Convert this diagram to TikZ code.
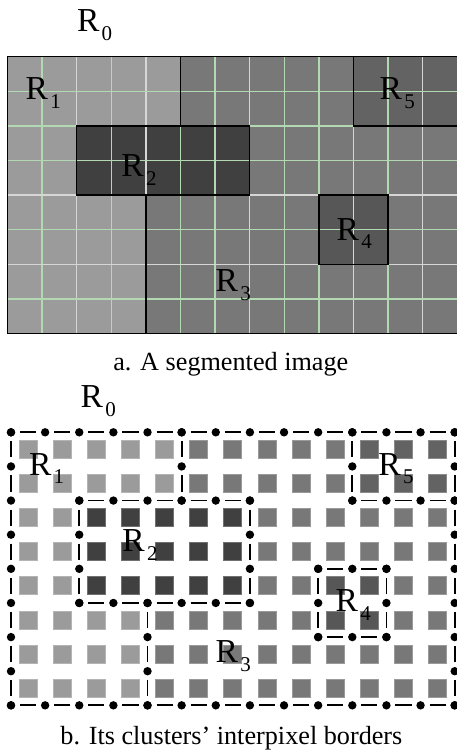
\documentclass[tikz,border=0pt]{standalone}
\usepackage{fontspec}
\setmainfont{Liberation Serif}
\definecolor{cA}{HTML}{9B9B9B}
\definecolor{cB}{HTML}{404040}
\definecolor{cC}{HTML}{787878}
\definecolor{cD}{HTML}{575757}
\definecolor{cE}{HTML}{636363}
\definecolor{gG}{HTML}{B2D9B2}
\definecolor{gW}{HTML}{D6D6D6}
\newcommand\rlab[1]{{\fontsize{33.5}{33.5}\selectfont R}\kern2.3pt\raisebox{-8.5pt}{\fontsize{21}{21}\selectfont #1}}
\newcommand\sqblock[5]{\foreach \c in {#1,...,#2}{\foreach \r in {#3,...,#4}{\path[fill=#5, draw=#5!75!white, line width=0.8pt] (\c+0.5,\r+0.5) ++(-9pt,-9pt) rectangle ++(18pt,18pt);}}}
\newcommand\hrun[3]{%
  \pgfmathtruncatemacro\hlast{#3-1}%
  \foreach \i in {#2,...,\hlast}{\draw[dashe] (\i,#1) -- (\i+1,#1);}%
  \foreach \i in {#2,...,#3}{\fill (\i,#1) circle[radius=4.2pt];}}
\newcommand\vrun[3]{%
  \pgfmathtruncatemacro\vlast{#3-1}%
  \foreach \i in {#2,...,\vlast}{\draw[dashe] (#1,\i) -- (#1,\i+1);}%
  \foreach \i in {#2,...,#3}{\fill (#1,\i) circle[radius=4.2pt];}}
\tikzset{
  border/.style={black, line width=1.5pt},
  gridg/.style={gG, line width=1.3pt},
  gridw/.style={gW, line width=1.3pt},
  lab/.style={anchor=base west, inner sep=0pt},
  captxt/.style={anchor=base, inner sep=0pt, font=\fontsize{26.2}{26.2}\selectfont},
  dashe/.style={black, line width=1.8pt, shorten <=9pt, shorten >=9pt},
}
\begin{document}
\begin{tikzpicture}[x=1pt,y=-1pt]
\useasboundingbox (0,0) rectangle (456,751);
% ---------- top: segmented image ----------
\begin{scope}[shift={(7.5,56.7)}, x=34.6pt, y=-34.6pt]
  \fill[cC] (0,0) rectangle (13,8);
  \fill[cA] (0,0) -- (5,0) -- (5,2) -- (2,2) -- (2,4) -- (4,4) -- (4,8) -- (0,8) -- cycle;
  \fill[cB] (2,2) rectangle (7,4);
  \fill[cD] (9,4) rectangle (11,6);
  \fill[cE] (10,0) rectangle (13,2);
  \foreach \i in {1,3,5,6,8,9,11} \draw[gridg] (\i,0) -- (\i,8);
  \foreach \i in {2,4,7,10,12} \draw[gridw] (\i,0) -- (\i,8);
  \foreach \j in {1,2,3,5,7} \draw[gridg] (0,\j) -- (13,\j);
  \foreach \j in {4,6} \draw[gridw] (0,\j) -- (13,\j);
  \draw[border] (0,0) rectangle (13,8);
  \draw[border] (5,0) -- (5,2);
  \draw[border] (2,2) rectangle (7,4);
  \draw[border] (4,4) -- (4,8);
  \draw[border] (9,4) rectangle (11,6);
  \draw[border] (10,0) rectangle (13,2);
\end{scope}
\node[lab] (ta0) at (76.8,31.7) {\rlab{0}};
\node[lab] (ta1) at (25.5,100) {\rlab{1}};
\node[lab] (ta2) at (121.2,176.7) {\rlab{2}};
\node[lab] (ta3) at (215.5,291.7) {\rlab{3}};
\node[lab] (ta4) at (336.5,240) {\rlab{4}};
\node[lab] (ta5) at (379.5,100) {\rlab{5}};
\node[captxt] (capa) at (230.8,370) {a. A segmented image};
% ---------- bottom: interpixel borders ----------
\begin{scope}[shift={(11,432.3)}, x=34.13pt, y=-34.13pt]
  \sqblock{0}{12}{0}{7}{cC}
  \sqblock{0}{4}{0}{1}{cA}
  \sqblock{0}{1}{2}{4}{cA}
  \sqblock{0}{3}{5}{7}{cA}
  \sqblock{2}{6}{2}{4}{cB}
  \sqblock{9}{10}{4}{5}{cD}
  \sqblock{10}{12}{0}{1}{cE}
  \hrun{0}{0}{13}
  \hrun{8}{0}{13}
  \vrun{0}{0}{8}
  \vrun{13}{0}{8}
  \vrun{5}{0}{2}
  \hrun{2}{2}{7}
  \hrun{5}{2}{7}
  \vrun{2}{2}{5}
  \vrun{7}{2}{5}
  \vrun{4}{5}{8}
  \hrun{4}{9}{11}
  \hrun{6}{9}{11}
  \vrun{9}{4}{6}
  \vrun{11}{4}{6}
  \vrun{10}{0}{2}
  \hrun{2}{10}{13}
\end{scope}
\node[lab] (tb0) at (80.5,407.5) {\rlab{0}};
\node[lab] (tb1) at (28.8,475) {\rlab{1}};
\node[lab] (tb2) at (122.2,551.7) {\rlab{2}};
\node[lab] (tb3) at (215.5,662.7) {\rlab{3}};
\node[lab] (tb4) at (335.5,611.7) {\rlab{4}};
\node[lab] (tb5) at (378.2,475) {\rlab{5}};
\node[captxt] (capb) at (231.4,744.5) {b. Its clusters’ interpixel borders};
\end{tikzpicture}
\end{document}
